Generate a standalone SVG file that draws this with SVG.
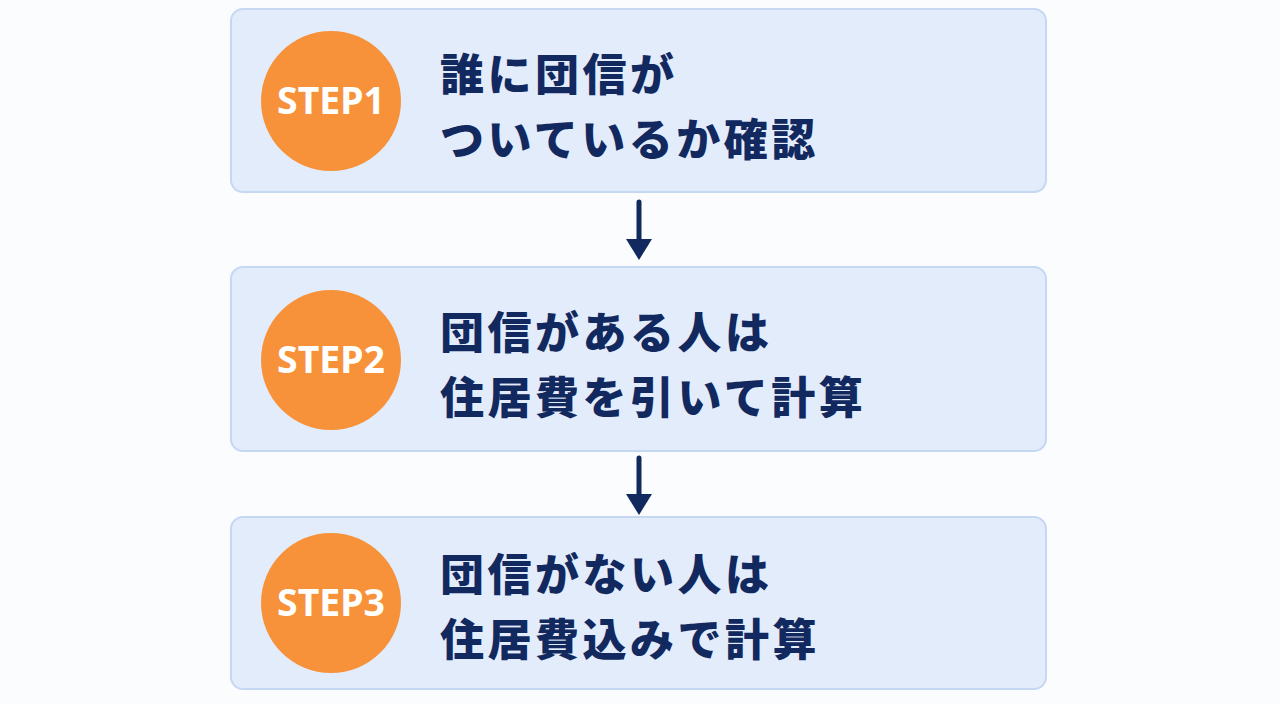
<svg xmlns="http://www.w3.org/2000/svg" width="1280" height="704" viewBox="0 0 1280 704">
<defs>
<style>
.box{fill:#e3ecfb;stroke:#c6d7f3;stroke-width:2}
.circ{fill:#f7923a}
.step{font-family:"Noto Sans","Noto Sans CJK JP",sans-serif;font-weight:700;font-size:37px;fill:#ffffff;text-anchor:middle}
.lbl{font-family:"Noto Sans CJK JP","Noto Sans",sans-serif;font-weight:800;font-size:44px;fill:#12295f;letter-spacing:3.5px}
.conn{stroke:#12295f;stroke-width:5;stroke-linecap:round;fill:none}
</style>
</defs>
<rect width="1280" height="704" fill="#fbfcfd"/>
<g id="connectors">
<line x1="639" y1="202" x2="639" y2="240" class="conn"/>
<polygon points="626,239 652,239 639,260" fill="#12295f"/>
<line x1="639" y1="458" x2="639" y2="495" class="conn"/>
<polygon points="626,494 652,494 639,515" fill="#12295f"/>
</g>
<g id="step1">
<rect x="231" y="9" width="815" height="183" rx="12" class="box"/>
<circle cx="331" cy="101" r="70" class="circ"/>
<text x="331" y="114" class="step" textLength="108" lengthAdjust="spacingAndGlyphs">STEP1</text>
<text x="440" y="91" class="lbl">誰に団信が</text>
<text x="440" y="156" class="lbl">ついているか確認</text>
</g>
<g id="step2">
<rect x="231" y="267" width="815" height="184" rx="12" class="box"/>
<circle cx="331" cy="360" r="70" class="circ"/>
<text x="331" y="373" class="step" textLength="108" lengthAdjust="spacingAndGlyphs">STEP2</text>
<text x="440" y="349" class="lbl">団信がある人は</text>
<text x="440" y="414" class="lbl">住居費を引いて計算</text>
</g>
<g id="step3">
<rect x="231" y="517" width="815" height="172" rx="12" class="box"/>
<circle cx="331" cy="603" r="70" class="circ"/>
<text x="331" y="616" class="step" textLength="108" lengthAdjust="spacingAndGlyphs">STEP3</text>
<text x="440" y="591" class="lbl">団信がない人は</text>
<text x="440" y="656" class="lbl">住居費込みで計算</text>
</g>
</svg>
